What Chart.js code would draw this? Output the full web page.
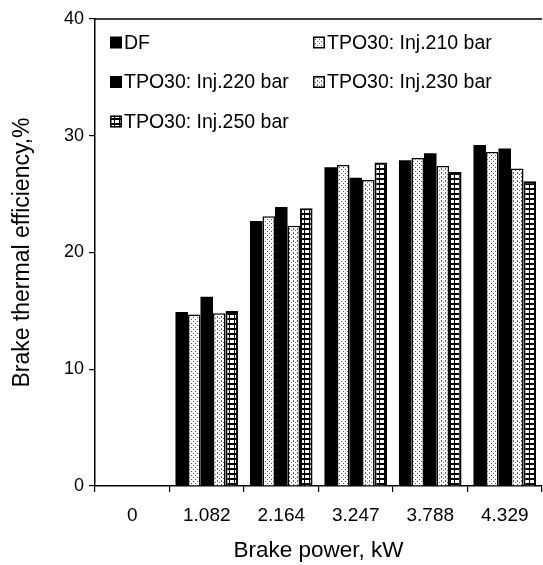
<!DOCTYPE html>
<html>
<head>
<meta charset="utf-8">
<script src="https://cdn.jsdelivr.net/npm/chart.js@4"></script>
<style>
  html, body { margin: 0; padding: 0; background: #fff; }
  #wrap { width: 543px; height: 565px; }
</style>
</head>
<body>
<div id="wrap"><canvas id="c" width="543" height="565"></canvas></div>
<script>
// ---- data ----
const categories = ['0', '1.082', '2.164', '3.247', '3.788', '4.329'];
const seriesNames = ['DF', 'TPO30: Inj.210 bar', 'TPO30: Inj.220 bar', 'TPO30: Inj.230 bar', 'TPO30: Inj.250 bar'];
const dfValues     = [0, 14.9, 22.7, 27.3, 27.9, 29.2];
const inj210Values = [0, 14.7, 23.1, 27.5, 28.1, 28.6];
const inj220Values = [0, 16.2, 23.9, 26.4, 28.5, 28.9];
const inj230Values = [0, 14.8, 22.3, 26.2, 27.4, 27.2];
const inj250Values = [0, 15.0, 23.8, 27.7, 26.9, 26.1];
const yMin = 0, yMax = 40, yStep = 10;
const xTitle = 'Brake power, kW';
const yTitle = 'Brake thermal efficiency,%';

// ---- fill patterns ----
function makePattern(w, h, draw) {
  const c = document.createElement('canvas');
  c.width = w; c.height = h;
  const g = c.getContext('2d');
  draw(g);
  return g.createPattern(c, 'repeat');
}
const dotted = makePattern(4, 4, g => {
  g.fillStyle = '#fff'; g.fillRect(0, 0, 4, 4);
  g.fillStyle = '#555'; g.fillRect(1, 1, 1, 1); g.fillRect(3, 3, 1, 1);
});
const dashed = makePattern(4, 4, g => {
  g.fillStyle = '#fff'; g.fillRect(0, 0, 4, 4);
  g.fillStyle = '#666'; g.fillRect(1, 0, 1, 2); g.fillRect(3, 2, 1, 1);
});
const ladder = makePattern(5, 5, g => {
  g.fillStyle = '#000'; g.fillRect(0, 0, 5, 5);
  g.fillStyle = '#fff'; g.fillRect(0, 0, 4, 3);
});

const fills   = ['#000', dotted, '#000', dashed, ladder];
const borders = [0, 1.5, 0, 1.5, 2];
const valueSets = [dfValues, inj210Values, inj220Values, inj230Values, inj250Values];

const FONT = "'Liberation Sans', Arial, Helvetica, sans-serif";

// legend drawn inside the plot area, two columns
const insideLegend = {
  id: 'insideLegend',
  afterDraw(chart, args, opts) {
    const ctx = chart.ctx;
    const a = chart.chartArea;
    ctx.save();
    ctx.font = opts.fontSize + 'px ' + FONT;
    ctx.textBaseline = 'middle';
    ctx.textAlign = 'left';
    chart.data.datasets.forEach((ds, i) => {
      const col = i % 2, row = Math.floor(i / 2);
      const x = a.left + opts.x0 + col * opts.colW;
      const yc = a.top + opts.y0 + row * opts.rowH;
      const s = opts.box;
      ctx.fillStyle = ds.backgroundColor;
      ctx.fillRect(x, yc - s / 2, s, s);
      if (ds.borderWidth) {
        ctx.lineWidth = 1.5;
        ctx.strokeStyle = '#000';
        ctx.strokeRect(x + 0.75, yc - s / 2 + 0.75, s - 1.5, s - 1.5);
      }
      ctx.fillStyle = '#000';
      ctx.fillText(ds.label, x + s + 2, yc + 1);
    });
    ctx.restore();
  }
};

// top frame line of the plot
const topFrame = {
  id: 'topFrame',
  afterDraw(chart) {
    const ctx = chart.ctx, a = chart.chartArea;
    ctx.save();
    ctx.strokeStyle = '#000';
    ctx.lineWidth = 1.5;
    ctx.beginPath();
    ctx.moveTo(a.left, a.top);
    ctx.lineTo(a.right, a.top);
    ctx.stroke();
    ctx.restore();
  }
};

new Chart(document.getElementById('c'), {
  type: 'bar',
  data: {
    labels: categories,
    datasets: seriesNames.map((name, i) => ({
      label: name,
      data: valueSets[i],
      backgroundColor: fills[i],
      borderColor: '#000',
      borderWidth: borders[i],
      barPercentage: 1.0,
      categoryPercentage: 0.84
    }))
  },
  options: {
    responsive: false,
    animation: false,
    devicePixelRatio: 1,
    layout: { padding: { top: 19, right: 1, left: 0, bottom: 0 } },
    plugins: {
      legend: { display: false },
      tooltip: { enabled: false },
      insideLegend: { fontSize: 19.5, x0: 15, colW: 203, y0: 23.5, rowH: 39.5, box: 12 }
    },
    scales: {
      x: {
        offset: true,
        afterFit(scale) { scale.height = 79; },
        grid: { display: true, drawOnChartArea: false, drawTicks: true, tickLength: 6, color: '#000', lineWidth: 1.2, offset: true },
        border: { display: true, color: '#000', width: 1.5 },
        ticks: { color: '#000', font: { family: FONT, size: 19 }, padding: 12, maxRotation: 0 },
        title: { display: true, text: xTitle, color: '#000', font: { family: FONT, size: 22.5 }, padding: { top: 0, bottom: 1 } }
      },
      y: {
        min: yMin, max: yMax,
        afterFit(scale) { scale.width = 95; },
        ticks: { stepSize: yStep, color: '#000', font: { family: FONT, size: 18 }, padding: 5 },
        grid: { display: true, drawOnChartArea: false, drawTicks: true, tickLength: 6, color: '#000', lineWidth: 1.2 },
        border: { display: true, color: '#000', width: 1.5 },
        title: { display: true, text: yTitle, color: '#000', font: { family: FONT, size: 23 }, padding: { top: 9, bottom: 0 } }
      }
    }
  },
  plugins: [insideLegend, topFrame]
});
</script>
</body>
</html>
